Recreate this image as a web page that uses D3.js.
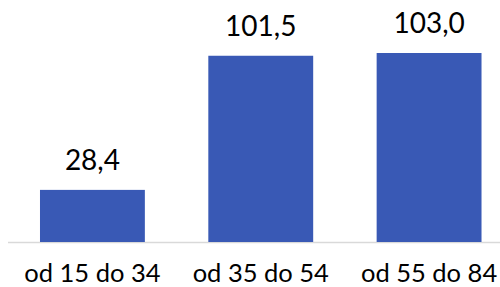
<!DOCTYPE html>
<html><head><meta charset="utf-8">
<script src="https://cdn.jsdelivr.net/npm/d3@7"></script>
<style>body{margin:0;background:#fff}svg{display:block}</style>
</head><body>
<svg id="c" width="500" height="287"></svg>
<script>
const categories = ["od 15 do 34", "od 35 do 54", "od 55 do 84"];
const values = [28.4, 101.5, 103.0];
const valueLabels = ["28,4", "101,5", "103,0"];

const svg = d3.select("#c");
const baseY = 242;
const x = d3.scaleBand().domain(categories).range([8, 513.5]).paddingInner(0.377).paddingOuter(0.19);
const y = d3.scaleLinear().domain([0, 103]).range([baseY, 53]);

svg.append("line").attr("x1", 8).attr("x2", 500).attr("y1", baseY + 0.5).attr("y2", baseY + 0.5)
  .attr("stroke", "#d9d9d9").attr("stroke-width", 1.5);

svg.selectAll("rect.bar").data(values).join("rect").attr("class", "bar")
  .attr("x", (d, i) => x(categories[i])).attr("width", x.bandwidth())
  .attr("y", d => y(d)).attr("height", d => baseY - y(d))
  .attr("fill", "#3959b5");

svg.selectAll("text.val").data(values).join("text").attr("class", "val")
  .attr("x", (d, i) => x(categories[i]) + x.bandwidth() / 2)
  .attr("y", d => y(d) - 20)
  .attr("text-anchor", "middle")
  .attr("font-family", "Lato, sans-serif").attr("font-size", 28).attr("fill", "#000")
  .text((d, i) => valueLabels[i]);

svg.selectAll("text.cat").data(categories).join("text").attr("class", "cat")
  .attr("x", d => x(d) + x.bandwidth() / 2)
  .attr("y", 282)
  .attr("text-anchor", "middle")
  .attr("font-family", "Lato, sans-serif").attr("font-size", 25.5).attr("fill", "#000")
  .text(d => d);
</script>
</body></html>
